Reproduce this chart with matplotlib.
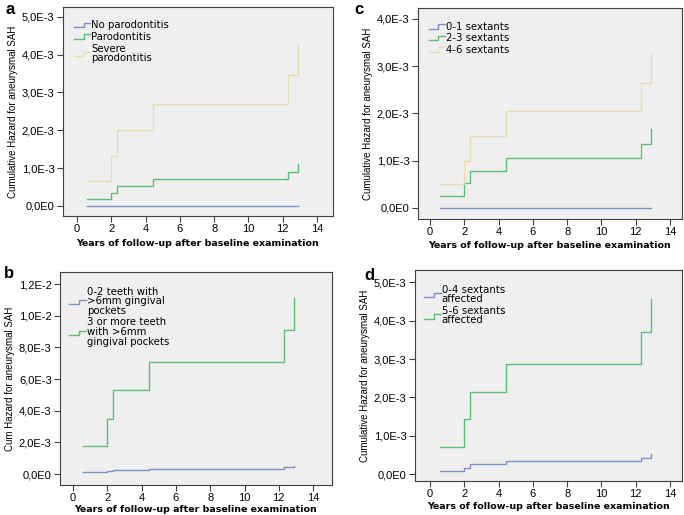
import matplotlib
matplotlib.use("Agg")
import matplotlib.pyplot as plt
from matplotlib.lines import Line2D
from matplotlib.legend_handler import HandlerBase
from matplotlib.ticker import FuncFormatter

plt.rcParams["font.family"] = ["Liberation Sans", "DejaVu Sans"]

# ------------------------------------------------------------
# Data (event times in years, cum. hazard)
# ------------------------------------------------------------
times = [0.6, 2.0, 2.35, 4.45, 12.3, 12.9]

# panel a
a_labels = ["No parodontitis", "Parodontitis", "Severe\nparodontitis"]
a_none = [0.0, 0.0, 0.0, 0.0, 0.0, 0.0]
a_paro = [0.18e-3, 0.35e-3, 0.52e-3, 0.70e-3, 0.90e-3, 1.10e-3]
a_severe = [0.67e-3, 1.33e-3, 2.00e-3, 2.70e-3, 3.47e-3, 4.25e-3]

# panel b
b_labels = ["0-2 teeth with\n>6mm gingival\npockets",
            "3 or more teeth\nwith >6mm\ngingival pockets"]
b_low = [0.10e-3, 0.20e-3, 0.28e-3, 0.35e-3, 0.42e-3, 0.48e-3]
b_high = [1.75e-3, 3.50e-3, 5.30e-3, 7.10e-3, 9.10e-3, 11.10e-3]

# panel c
c_labels = ["0-1 sextants", "2-3 sextants", "4-6 sextants"]
c_01 = [0.0, 0.0, 0.0, 0.0, 0.0, 0.0]
c_23 = [0.25e-3, 0.52e-3, 0.78e-3, 1.05e-3, 1.35e-3, 1.67e-3]
c_46 = [0.50e-3, 1.00e-3, 1.52e-3, 2.05e-3, 2.65e-3, 3.27e-3]

# panel d
d_labels = ["0-4 sextants\naffected", "5-6 sextants\naffected"]
d_low = [0.08e-3, 0.17e-3, 0.26e-3, 0.34e-3, 0.43e-3, 0.52e-3]
d_high = [0.70e-3, 1.43e-3, 2.15e-3, 2.88e-3, 3.70e-3, 4.57e-3]

xticks = [0, 2, 4, 6, 8, 10, 12, 14]

BLUE = "#7f8fc8"
GREEN = "#5cbf78"
TAN = "#e6deb0"
BG = "#efefef"
FRAME = "#404040"


def spss_fmt(v, pos):
    if abs(v) < 1e-12:
        return "0,0E0"
    s = "%.1E" % v            # e.g. 5.0E-03
    mant, exp = s.split("E")
    return mant.replace(".", ",") + "E" + str(int(exp))


class StepHandler(HandlerBase):
    # little step-shaped legend key, like SPSS survival plots
    def create_artists(self, legend, orig_handle, xdescent, ydescent,
                       width, height, fontsize, trans):
        lo = -ydescent + height * 0.1
        hi = -ydescent + height * 0.8
        x0 = -xdescent
        xm = x0 + width * 0.6
        ln = Line2D([x0, xm, xm, x0 + width], [lo, lo, hi, hi],
                    color=orig_handle.get_color(),
                    lw=orig_handle.get_linewidth(), transform=trans)
        return [ln]


fig = plt.figure(figsize=(6.84, 5.15), dpi=100)
W, H = 684.0, 515.0


def make_axes(l, r, t, b):
    return fig.add_axes([l / W, 1 - b / H, (r - l) / W, (b - t) / H])


def style(ax, xlim, ylim, yticks, ylabel, series, labels, leg_anchor, xpad):
    ax.set_facecolor(BG)
    handles = []
    for vals, col in series:
        h, = ax.step(times, vals, where="post", color=col, lw=1.0)
        handles.append(h)
    ax.set_xlim(*xlim)
    ax.set_ylim(*ylim)
    ax.set_xticks(xticks)
    ax.set_yticks(yticks)
    ax.yaxis.set_major_formatter(FuncFormatter(spss_fmt))
    ax.tick_params(direction="out", length=4, width=0.8, color=FRAME,
                   labelsize=8, pad=2)
    for sp in ax.spines.values():
        sp.set_color(FRAME)
        sp.set_linewidth(0.8)
    ax.set_xlabel("Years of follow-up after baseline examination",
                  fontsize=6.8, fontweight="bold", family="DejaVu Sans",
                  labelpad=xpad)
    ax.set_ylabel(ylabel, fontsize=7, labelpad=3)
    leg = ax.legend(handles, labels, loc="upper left",
                    bbox_to_anchor=leg_anchor, frameon=False,
                    prop={"family": "DejaVu Sans", "size": 7.3},
                    handlelength=1.6, handleheight=0.6, handletextpad=0.1,
                    labelspacing=0.15, borderaxespad=0,
                    handler_map={Line2D: StepHandler()})
    for t in leg.get_texts():
        t.set_linespacing(0.95)


ax_a = make_axes(63, 333, 7, 216)
style(ax_a, (-0.82, 14.93), (-0.265e-3, 5.26e-3),
      [0, 1e-3, 2e-3, 3e-3, 4e-3, 5e-3],
      "Cumulative Hazard for aneurysmal SAH",
      [(a_none, BLUE), (a_paro, GREEN), (a_severe, TAN)],
      a_labels, (0.025, 0.955), 3)

ax_c = make_axes(418, 682, 8, 219)
style(ax_c, (-0.7, 14.7), (-0.233e-3, 4.23e-3),
      [0, 1e-3, 2e-3, 3e-3, 4e-3],
      "Cumulative Hazard for aneurysmal SAH",
      [(c_01, BLUE), (c_23, GREEN), (c_46, TAN)],
      c_labels, (0.025, 0.955), 3)

ax_b = make_axes(60, 332, 272, 485)
style(ax_b, (-0.76, 15.1), (-0.69e-3, 12.76e-3),
      [0, 2e-3, 4e-3, 6e-3, 8e-3, 10e-3, 12e-3],
      "Cum Hazard for aneurysmal SAH",
      [(b_low, BLUE), (b_high, GREEN)],
      b_labels, (0.02, 0.95), 1)

ax_d = make_axes(415, 682, 270, 481)
style(ax_d, (-0.875, 14.7), (-0.18e-3, 5.32e-3),
      [0, 1e-3, 2e-3, 3e-3, 4e-3, 5e-3],
      "Cumulative Hazard for aneurysmal SAH",
      [(d_low, BLUE), (d_high, GREEN)],
      d_labels, (0.02, 0.95), 2)

for lab, x, y in [("a", 5, 9), ("c", 354, 10), ("b", 4, 274), ("d", 364, 276)]:
    fig.text(x / W, 1 - y / H, lab, fontsize=12, fontweight="bold",
             va="center", ha="left")

fig.savefig("out.png", dpi=100)
